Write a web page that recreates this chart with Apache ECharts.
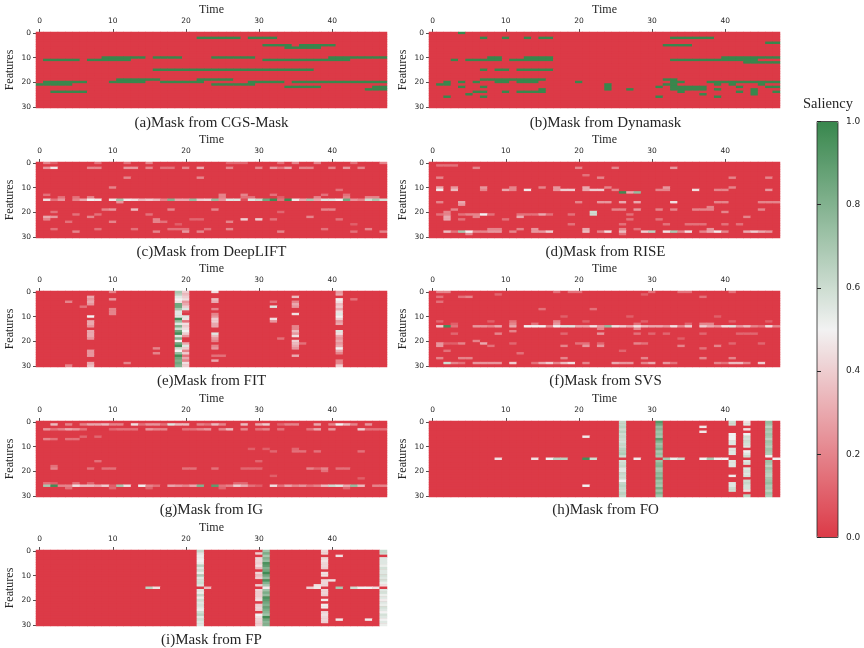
<!DOCTYPE html>
<html><head><meta charset="utf-8">
<script src="https://cdn.jsdelivr.net/npm/echarts@6/dist/echarts.min.js"></script>
<style>html,body{margin:0;padding:0;background:#fff}#c{width:864px;height:648px}</style>
</head><body><div id="c"></div>
<script>
const timeLabels = Array.from({length:48},(_,i)=>String(i));
const featureLabels = Array.from({length:31},(_,i)=>String(i));
const panelTitles = ['(a)Mask from CGS-Mask','(b)Mask from Dynamask','(c)Mask from DeepLIFT','(d)Mask from RISE','(e)Mask from FIT','(f)Mask from SVS','(g)Mask from IG','(h)Mask from FO','(i)Mask from FP'];
const colorbarTicks = [0,0.2,0.4,0.6,0.8,1];

// spans: [feature, firstTime, lastTime] at saliency 1
const cgsSpans = [[2,22,27],[2,29,32],[5,31,34],[5,36,40],[6,34,38],[10,9,14],[10,16,19],[10,24,29],[10,40,47],[11,1,5],[11,7,12],[11,31,42],[15,16,37],[19,11,16],[19,22,26],[20,1,6],[20,10,14],[20,17,22],[20,29,33],[20,35,47],[21,0,4],[21,24,29],[22,34,38],[22,46,47],[23,45,47],[24,2,6]];
const dynaSpans = [[0,4,4],[2,7,7],[2,10,10],[2,13,13],[2,15,16],[2,33,38],[4,46,47],[5,32,35],[10,8,9],[10,13,16],[10,40,47],[11,3,3],[11,5,9],[11,11,16],[11,33,44],[12,43,47],[15,7,7],[15,9,10],[15,12,16],[19,7,15],[19,32,33],[20,2,2],[20,4,4],[20,6,6],[20,9,10],[20,12,14],[20,20,20],[20,33,34],[20,38,47],[21,1,2],[21,24,24],[21,32,33],[21,33,33],[21,39,39],[21,41,41],[21,45,45],[22,4,4],[22,7,7],[22,24,24],[22,31,31],[22,33,37],[22,42,42],[22,46,47],[23,15,15],[23,24,24],[23,27,27],[23,33,37],[23,39,39],[23,44,44],[24,6,7],[24,10,10],[24,12,15],[24,34,34],[24,42,42],[24,44,44],[24,47,47],[25,5,5],[25,37,37],[25,44,44],[26,2,2],[26,7,7],[26,31,31],[26,39,39]];

// cells: [feature, time, value, time, value, ...]
const deepliftCells = [
[0,1,.2,2,.1,8,.15,12,.15,15,.2,26,.12,27,.12,28,.12,33,.15,35,.2,38,.2,43,.15,47,.2],
[2,1,.25,2,.47,7,.2,8,.2,12,.25,13,.25,15,.2,17,.15,18,.15,20,.2,22,.3,26,.2,30,.2,32,.25,33,.15,34,.3,36,.2,37,.2,40,.2,42,.25,44,.2],
[6,12,.2,22,.2],[10,10,.2],[11,41,.15],
[13,1,.15,25,.2,28,.2,32,.15,39,.15,42,.15],
[14,3,.15,5,.15,7,.2,25,.2,28,.15,29,.15,33,.1,38,.2,42,.2,45,.2,46,.2],
[15,1,.45,2,.15,3,.25,5,.2,6,.3,7,.5,8,.48,10,.47,11,.72,12,.48,13,.45,14,.35,15,.4,16,.35,17,.2,18,.8,19,.3,20,.3,21,.75,22,.4,23,.42,24,.75,25,.25,26,.55,27,.55,28,.05,29,.55,30,.6,31,.85,32,.98,33,.15,34,.98,35,.48,36,.3,37,.7,38,.3,39,.55,40,.55,41,.5,42,.85,43,.25,44,.2,45,.6,46,.7,47,.58],
[16,11,.25],
[19,9,.2,10,.25,13,.35,18,.2,24,.2,39,.2,40,.2],
[20,2,.15,33,.12],[21,5,.15,8,.15,15,.15],
[22,1,.3,2,.25,7,.2,37,.2],
[23,1,.2,16,.2,21,.12,22,.12,28,.4,30,.4,32,.15,41,.15],
[24,4,.15,10,.2,16,.2,17,.15,26,.2],[25,19,.1,43,.1],
[27,2,.15,8,.15,13,.15,18,.15,19,.15,20,.15,23,.15,26,.2,39,.15,45,.2],
[28,5,.2,16,.2,20,.25,22,.2,33,.2,43,.15,47,.2]];

const riseCells = [
[1,1,.15,2,.15,3,.15],[2,6,.2,20,.2,25,.2,33,.25],[5,21,.15],[6,1,.2,23,.2,41,.2,46,.2],
[10,1,.3,3,.25,7,.25,11,.2,15,.2,17,.25,21,.3,24,.2,32,.25,41,.2],
[11,1,.48,3,.35,7,.2,10,.3,11,.2,13,.48,17,.25,18,.4,19,.4,21,.3,22,.4,23,.4,25,.2,31,.2,32,.2,36,.45,39,.2,40,.2,46,.25],
[12,26,.98,27,.3,28,.75],
[16,1,.2,4,.3,20,.2,23,.25,24,.25,26,.3,28,.3,33,.45,39,.2,40,.2,45,.2,46,.2,47,.2],
[17,4,.25],[18,38,.2],
[19,3,.2,25,.2,26,.2,28,.25,31,.2,33,.2,36,.2,37,.2,38,.2,45,.2],
[20,2,.2,22,.6,40,.2],
[21,1,.15,2,.2,4,.15,5,.2,6,.2,7,.5,8,.15,12,.15,13,.15,14,.15,15,.3,16,.15,19,.15,22,.6,27,.15],
[22,2,.3,6,.2,12,.3,43,.2],[23,2,.3,4,.15,10,.15,27,.15,31,.15],
[25,19,.15,26,.15,32,.15,35,.15,36,.15,37,.15,40,.15,42,.15],
[27,8,.2,9,.2,12,.2,14,.25,21,.3,26,.2,28,.15,38,.25],
[28,2,.35,3,.15,4,.7,5,.5,6,.2,7,.2,8,.25,9,.25,11,.2,14,.25,15,.25,16,.4,21,.35,23,.2,24,.45,26,.35,29,.4,30,.65,32,.45,33,.7,34,.2,35,.45,37,.2,38,.3,39,.48,40,.2,43,.3,44,.4,45,.3,46,.25],
[29,5,.2,26,.15]];

const fitCells = [
[0,10,.2,24,.45,41,.25],[1,41,.3],[2,7,.3,35,.35],[3,7,.25,10,.25,24,.35,41,.5,43,.15],
[4,4,.2,7,.3,24,.3,32,.15,35,.2,41,.45],[5,7,.25,35,.3,41,.35],[6,6,.15,32,.55,35,.25,41,.4],
[7,10,.2,24,.2,41,.3],[8,10,.2,41,.45],[9,10,.2,24,.2,35,.45,41,.55],[10,7,.5,24,.25,41,.5],
[11,24,.4,32,.45,41,.4],[12,7,.3,24,.4,32,.25,41,.25],[13,7,.3,24,.3,41,.3],[14,7,.25,24,.3,35,.2],
[15,35,.2],[16,7,.3,35,.35,41,.55],[17,7,.3,24,.55,35,.25,41,.45],[18,7,.3,24,.35,35,.45,41,.3],
[19,7,.25,24,.25,33,.15,41,.25],[20,24,.2,35,.4,41,.3],[21,35,.35,36,.15,41,.25],[22,24,.2,35,.3,41,.3],
[23,16,.2,24,.25,35,.25,41,.5],[24,7,.25,41,.3],[25,7,.25,16,.2,41,.2],[26,7,.25,24,.15,25,.15,35,.3],
[28,24,.3,41,.2],[29,7,.3,12,.2,41,.2],[30,4,.2,7,.35,41,.4]];
const fitCol19 = [.7,.65,.55,.5,.45,.85,.85,.7,.55,.55,.55,.97,.75,.55,.8,.6,.85,.97,.55,.8,.5,.85,.97,.6,.5,.75,.97,.85,.8,.85,.8];
const fitCol20 = [.4,.35,.4,.45,.25,.3,.4,.55,.05,0,.55,.45,.15,.45,.4,.45,.5,.4,.25,0,0,.3,.55,.4,.2,.4,.15,.3,.2,.45,.4];

const svsCells = [
[0,1,.2,2,.2,17,.15,19,.15,20,.15,30,.15,34,.15,35,.15,41,.15],[1,9,.12,29,.1],[2,1,.15,4,.15,5,.2,37,.15],[4,1,.15],[7,15,.15,22,.15],[10,18,.1,27,.1,39,.1],
[12,1,.12,8,.1,11,.15,17,.2,21,.1,29,.1,41,.1,46,.1],[13,3,.1,11,.2,14,.15,17,.25,28,.15,35,.12,37,.2,38,.2],
[14,1,.4,2,.97,3,.15,6,.25,7,.25,8,.2,9,.3,11,.3,13,.5,14,.5,15,.5,16,.2,17,.5,18,.55,19,.55,20,.3,21,.3,22,.45,23,.25,24,.75,25,.45,26,.4,27,.3,28,.45,29,.35,30,.3,31,.3,32,.25,33,.45,34,.2,35,.4,37,.4,38,.3,39,.25,40,.45,41,.55,42,.25,43,.35,44,.2,45,.15,46,.45,47,.2],
[15,23,.2,28,.2],[16,11,.2],[17,3,.12,9,.2,18,.12,23,.25,28,.15,30,.12,32,.12,37,.12,42,.12,43,.12,44,.12],[19,34,.1],[20,6,.2],
[21,1,.25,2,.1,3,.1,4,.2,7,.3,11,.12,20,.15,21,.15,23,.12,28,.2,29,.15,41,.12,45,.12],[22,1,.25,8,.15,18,.2,21,.25,23,.25,34,.2,39,.2],[23,37,.15],[24,2,.15,26,.12],[25,12,.15],
[27,1,.2,4,.2,5,.2,18,.2,29,.2,37,.2,41,.2],
[29,2,.6,3,.2,4,.15,6,.25,7,.25,8,.25,9,.25,11,.4,14,.15,15,.3,16,.4,17,.2,18,.35,19,.45,21,.2,25,.3,26,.25,27,.25,29,.2,30,.3,32,.25,33,.15,39,.2,40,.15,41,.35,42,.35,43,.2,45,.4]];

const igCells = [
[1,2,.35,4,.2,6,.2,7,.3,8,.3,9,.35,10,.2,11,.2,13,.45,14,.15,15,.25,16,.25,17,.15,18,.55,19,.35,20,.35,22,.2,23,.15,24,.35,25,.2,28,.35,30,.3,31,.4,33,.12,34,.2,35,.2,38,.3,40,.2,41,.5,42,.35,43,.2,45,.25],
[3,1,.25,2,.15,3,.2,4,.3,5,.25,6,.15,10,.12,11,.15,12,.15,13,.15,15,.25,16,.2,17,.2,20,.15,21,.15,22,.2,23,.25,25,.2,26,.35,28,.2,30,.15,31,.2,33,.15,37,.15,38,.3,40,.25,44,.4,45,.15,46,.15,47,.15],
[6,6,.12,8,.12],[7,1,.2,2,.15,4,.15,5,.15],[11,29,.1,31,.1,35,.12],[12,32,.12,35,.15,36,.15,38,.15,44,.15],[16,8,.15,30,.12],[18,2,.15],
[19,2,.2,7,.15,9,.15,10,.15,20,.15,21,.15,24,.15,28,.12,29,.12,30,.12,37,.2,38,.12,39,.2,41,.15,42,.15],[20,39,.15],[22,32,.1],[23,44,.1],
[25,1,.15,2,.1,5,.15,7,.12,27,.12,28,.12],
[26,1,.7,2,.97,3,.2,4,.2,5,.45,6,.35,7,.35,8,.3,9,.4,10,.1,11,.7,12,.45,14,.5,15,.2,16,.15,18,.3,19,.25,20,.2,21,.3,22,.8,24,.9,25,.15,26,.2,27,.4,28,.3,29,.15,30,.1,32,.45,33,.15,34,.3,35,.2,36,.25,37,.15,38,.2,39,.35,40,.6,41,.55,42,.3,43,.75,44,.35,46,.2,47,.2],
[27,4,.15,10,.12,15,.12,25,.12,42,.12]];

const foCells = [
[2,37,.47],[4,37,.47],[6,21,.48],[26,21,.5],
[15,9,.45,14,.45,16,.5,17,.65,18,.65,21,.97,22,.6,28,.48,32,.7,33,.52,34,.6,37,.5,38,.7,39,.5,40,.5,47,.5]];
const foCol26 = [.62,.62,.65,.6,.65,.6,.62,.6,.58,.62,.6,.65,.65,.68,.6,0,.58,.6,.62,.55,.55,.62,.6,.6,.5,.62,.65,.62,.6,.65,.62];
const foCol31 = [.92,.85,.75,.78,.72,.75,.7,.9,.8,.72,.75,.82,.7,.75,.7,0,.72,.78,.8,.7,.72,.78,.75,.82,.72,.75,.7,.82,.72,.8,.72];
const foCol41 = [.6,.6,0,0,0,.5,.5,.5,.55,.55,0,.55,.55,.55,0,0,.55,.55,.55,0,0,0,.48,0,0,.55,.55,.6,.6,0,0];
const foCol43 = [.45,.55,0,.45,0,.5,.6,.58,.6,.58,.55,0,.5,.55,.6,0,.55,.58,0,.55,.58,.55,.58,0,.6,.62,.58,.58,.45,0,.65];
const foCol46 = [.75,.72,.65,.72,.68,.72,.7,.65,.72,.7,.66,.72,.7,.68,.5,0,.72,.7,.65,.72,.68,.66,.65,.7,.72,.75,.68,.7,.65,.72,.68];

const fpCells = [
[2,41,.45],[12,40,.45],[14,38,.45],[28,41,.48,45,.48],
[15,15,.65,16,.45,23,.35,37,.4,38,.47,41,.7,43,.6,44,.5,45,.5,46,.45]];
const fpCol22 = [.62,.55,.52,.52,.5,.52,.65,.55,.6,.52,.68,.55,.58,.6,.55,0,.55,.52,.62,.52,.6,.55,.58,.55,.52,.6,.65,.55,.6,.55,.55];
const fpCol30 = [0,.4,0,.42,.42,.4,.45,.35,0,.42,.35,.4,0,0,.4,0,.42,.4,.4,.42,.45,0,.4,.42,.4,0,.5,.45,.42,.4,.4];
const fpCol31 = [.72,.82,.7,.8,.75,.95,.9,.8,.85,.98,.85,.75,.95,.8,.7,.48,.72,.82,.75,.95,.9,.85,.8,.88,.82,.78,.72,.98,.85,.78,.8];
const fpCol39 = [.42,.42,0,.42,.45,.42,.42,.4,0,.45,.45,0,.42,.42,.42,0,.42,.42,.4,0,.48,0,.48,.48,0,.42,.45,.42,.42,.4,0];
const fpCol47 = [.62,.6,0,.55,.55,.55,.52,.58,.55,.55,.58,.55,.58,.52,.45,0,.55,.58,.52,.55,.48,.55,.52,.58,.55,.5,.58,.55,.5,.55,.52];

const panelSpans = [cgsSpans,dynaSpans,[],[],[],[],[],[],[]];
const panelCells = [[],[],deepliftCells,riseCells,fitCells,svsCells,igCells,foCells,fpCells];
const panelCols = [[],[],[],[],[[19,fitCol19],[20,fitCol20]],[],[],[[26,foCol26],[31,foCol31],[41,foCol41],[43,foCol43],[46,foCol46]],[[22,fpCol22],[30,fpCol30],[31,fpCol31],[39,fpCol39],[47,fpCol47]]];

function buildMatrix(i){
  const m = featureLabels.map(()=>timeLabels.map(()=>0));
  panelSpans[i].forEach(([r,a,b])=>{for(let c=a;c<=b;c++)m[r][c]=1;});
  panelCells[i].forEach(row=>{for(let k=1;k<row.length;k+=2)m[row[0]][row[k]]=row[k+1];});
  panelCols[i].forEach(([c,vals])=>vals.forEach((v,r)=>{m[r][c]=v;}));
  const out=[];
  m.forEach((row,r)=>row.forEach((v,c)=>out.push([c,r,v])));
  return out;
}

const INK='#262626', SERIF='"Liberation Serif", serif', SANS='"DejaVu Sans", sans-serif';
const RED='#dc3a47';
const lefts=[36,429], tops=[32,162,291,421,550];
const capY=[118,247,376,505,635], capX=[206.5,600.5];
const grid=[],xAxis=[],yAxis=[],series=[],title=[];
panelTitles.forEach((t,i)=>{
  const col=i%2,row=Math.floor(i/2);
  grid.push({left:lefts[col],top:tops[row],width:351,height:76,outerBoundsMode:'none',show:true,backgroundColor:RED,borderWidth:0});
  xAxis.push({type:'category',gridIndex:i,position:'top',data:timeLabels,
    name:'Time',nameLocation:'middle',nameGap:16,nameTextStyle:{fontFamily:SERIF,fontSize:12,color:INK},
    axisLine:{show:false},axisTick:{show:true,alignWithLabel:true,interval:9,length:3,lineStyle:{color:INK,width:0.8}},
    axisLabel:{interval:9,fontFamily:SANS,fontSize:7.5,color:INK,margin:7},splitLine:{show:false}});
  yAxis.push({type:'category',gridIndex:i,inverse:true,data:featureLabels,
    name:'Features',nameLocation:'middle',nameGap:20,nameTextStyle:{fontFamily:SERIF,fontSize:12,color:INK},
    axisLine:{show:false},axisTick:{show:true,alignWithLabel:true,interval:9,length:3,lineStyle:{color:INK,width:0.8}},
    axisLabel:{interval:9,fontFamily:SANS,fontSize:7.5,color:INK,margin:5},splitLine:{show:false}});
  series.push({type:'heatmap',xAxisIndex:i,yAxisIndex:i,data:buildMatrix(i),progressive:0,silent:true,animation:false,itemStyle:{borderWidth:0}});
  title.push({text:t,left:capX[col],top:capY[row],textAlign:'center',textVerticalAlign:'middle',textStyle:{fontFamily:SERIF,fontSize:15,fontWeight:'normal',color:INK}});
});
title.push({text:'Saliency',left:823,top:99,textAlign:'center',textVerticalAlign:'middle',textStyle:{fontFamily:SERIF,fontSize:14.5,fontWeight:'normal',color:INK}});
// colorbar frame and ticks
grid.push({left:817,top:121.5,width:21,height:416,outerBoundsMode:'none',show:true,backgroundColor:'transparent',borderColor:INK,borderWidth:0.8,z:10});
xAxis.push({type:'value',gridIndex:9,show:false,min:0,max:1});
yAxis.push({type:'value',gridIndex:9,position:'right',min:colorbarTicks[0],max:colorbarTicks[5],interval:0.2,z:10,
  axisLine:{show:false},splitLine:{show:false},axisTick:{show:true,length:4,lineStyle:{color:INK,width:1}},
  axisLabel:{fontFamily:SANS,fontSize:9,color:INK,margin:8,formatter:v=>v.toFixed(1)}});

echarts.init(document.getElementById('c'),null,{renderer:'canvas'}).setOption({
  animation:false,backgroundColor:'#fff',grid,xAxis,yAxis,series,title,
  visualMap:{type:'continuous',min:0,max:1,seriesIndex:panelTitles.map((_,i)=>i),calculable:false,hoverLink:false,
    left:817,top:121.5,itemWidth:21,itemHeight:416,padding:0,text:null,showLabel:false,
    inRange:{color:[RED,'#f2f2f2','#38874d']}}
});
</script></body></html>
